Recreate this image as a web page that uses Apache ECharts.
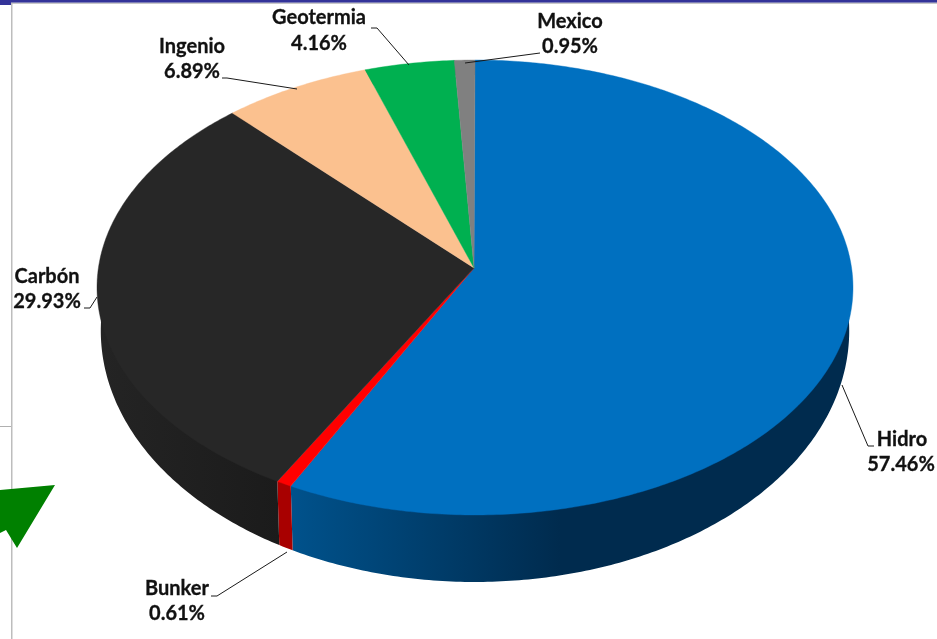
<!DOCTYPE html>
<html>
<head>
<meta charset="utf-8">
<style>html,body{margin:0;padding:0;background:#fff}#c{width:937px;height:639px}</style>
<script src="https://cdn.jsdelivr.net/npm/echarts@6/dist/echarts.min.js"></script>
</head>
<body>
<div id="c"></div>
<script>
const categories = ['Hidro', 'Bunker', 'Carbón', 'Ingenio', 'Geotermia', 'Mexico'];
const shares = [57.46, 0.61, 29.93, 6.89, 4.16, 0.95];
const shareLabels = ['57.46%', '0.61%', '29.93%', '6.89%', '4.16%', '0.95%'];

const topColors = ['#0070C0', '#FF0000', '#272727', '#FBC18F', '#00B050', '#808080'];
const sideColors = [
  ['#00528C', '#002B4E'], ['#A80000', '#A80000'], ['#1B1B1B', '#242424'],
  ['#B08660', '#B08660'], ['#007A38', '#007A38'], ['#5A5A5A', '#5A5A5A']
];
// Callout layout: text centre of each line, and leader polyline
const callouts = [
  { name: [902, 440], pct: [901, 465], line: [[842, 385], [868, 446], [874, 446]] },
  { name: [177, 589], pct: [177, 614], line: [[287, 552], [217, 596], [211, 596]] },
  { name: [47, 277], pct: [47, 302], line: [[97, 297], [90, 308], [84, 308]] },
  { name: [192, 47], pct: [192, 72], line: [[297, 89], [227, 78], [222, 78]] },
  { name: [319, 18], pct: [319, 44], line: [[409, 65], [377, 28], [371, 28]] },
  { name: [570, 22], pct: [570, 47], line: [[465, 63], [540, 53]] }
];

// Perspective projection of the tilted disc
const CX = 475, CY = 268, R = 376.6, B = 225.8, K = -0.0857, S = 0.99;
function rim(theta, bottom) {
  const u = Math.sin(theta), v = -Math.cos(theta), d = 1 + K * v;
  const x = R * u / d, y = B * v / d;
  if (!bottom) return [CX + x, CY + y];
  return [CX + x * S, CY + y + 41 + 26 * v];
}
const total = shares.reduce((a, b) => a + b, 0);
const toAngle = f => f / total * Math.PI * 2;
let acc = 0;
const spans = shares.map(s => { const a = [acc, acc + s]; acc += s; return a; });
function arcPoints(i, bottom) {
  const a0 = toAngle(spans[i][0]), a1 = toAngle(spans[i][1]);
  const n = Math.max(4, Math.ceil((a1 - a0) * 90));
  const pts = [];
  for (let j = 0; j <= n; j++) pts.push(rim(a0 + (a1 - a0) * j / n, bottom));
  return pts;
}
const rows = categories.map((c, i) => ({ name: c, value: shares[i] }));

function sideItem(params) {
  const i = params.dataIndex;
  // upper edge runs slightly inside the top face so no seam shows along the rim;
  // the two end points stay on the rim so the slice boundaries line up
  const raw = arcPoints(i, false);
  const top = raw.map((p, j) => (j === 0 || j === raw.length - 1) ? p
    : [CX + (p[0] - CX) * 0.985, CY + (p[1] - CY) * 0.985]);
  const bot = arcPoints(i, true).reverse();
  const fill = {
    type: 'linear', x: 290, y: 0, x2: 560, y2: 0, global: true,
    colorStops: [{ offset: 0, color: sideColors[i][0] }, { offset: 1, color: sideColors[i][1] }]
  };
  if (i === 2) { fill.x = 100; fill.x2 = 280; fill.colorStops = [{ offset: 0, color: sideColors[i][1] }, { offset: 1, color: sideColors[i][0] }]; }
  return { type: 'polygon', shape: { points: top.concat(bot) }, style: { fill: fill } };
}
function topItem(params) {
  const i = params.dataIndex;
  const pts = arcPoints(i, false);
  pts.push([CX - 1, CY]);
  return {
    type: 'polygon', shape: { points: pts },
    style: { fill: topColors[i], stroke: topColors[i], lineWidth: 0.4 }
  };
}
const FONT = 'bold 20px Lato, "Open Sans", sans-serif';
function labelItem(params) {
  const i = params.dataIndex, c = callouts[i];
  const textStyle = t => ({ text: t, font: FONT, fill: '#111', stroke: '#111', lineWidth: 0.3, align: 'center', verticalAlign: 'middle' });
  return {
    type: 'group',
    children: [
      { type: 'polyline', shape: { points: c.line }, style: { stroke: '#1a1a1a', lineWidth: 1, fill: null } },
      { type: 'text', x: c.name[0], y: c.name[1], style: textStyle(categories[i]) },
      { type: 'text', x: c.pct[0], y: c.pct[1], style: textStyle(shareLabels[i]) }
    ]
  };
}

const chart = echarts.init(document.getElementById('c'), null, { renderer: 'canvas' });
chart.setOption({
  animation: false,
  backgroundColor: '#ffffff',
  graphic: [
    { type: 'rect', shape: { x: 0, y: 0, width: 937, height: 2.7 }, style: { fill: '#333399' }, z: 0 },
    { type: 'rect', shape: { x: 0, y: 0, width: 11, height: 5 }, style: { fill: '#333399' }, z: 0 },
    { type: 'rect', shape: { x: 11, y: 2.7, width: 926, height: 1.3 }, style: { fill: '#c8c8c8' }, z: 0 },
    { type: 'rect', shape: { x: 11, y: 3, width: 1.5, height: 636 }, style: { fill: '#bdbdbd' }, z: 0 },
    { type: 'rect', shape: { x: 0, y: 426, width: 11, height: 1 }, style: { fill: '#b0b0b0' }, z: 0 },
    { type: 'polygon', shape: { points: [[0, 490], [55, 485], [17, 548], [6, 530], [0, 533]] }, style: { fill: '#008000' }, z: 0 }
  ],
  series: [
    { type: 'custom', coordinateSystem: 'none', silent: true, z: 2, data: rows, renderItem: sideItem },
    { type: 'custom', coordinateSystem: 'none', silent: true, z: 3, data: rows, renderItem: topItem },
    { type: 'custom', coordinateSystem: 'none', silent: true, z: 4, data: rows, renderItem: labelItem }
  ]
});
</script>
</body>
</html>
